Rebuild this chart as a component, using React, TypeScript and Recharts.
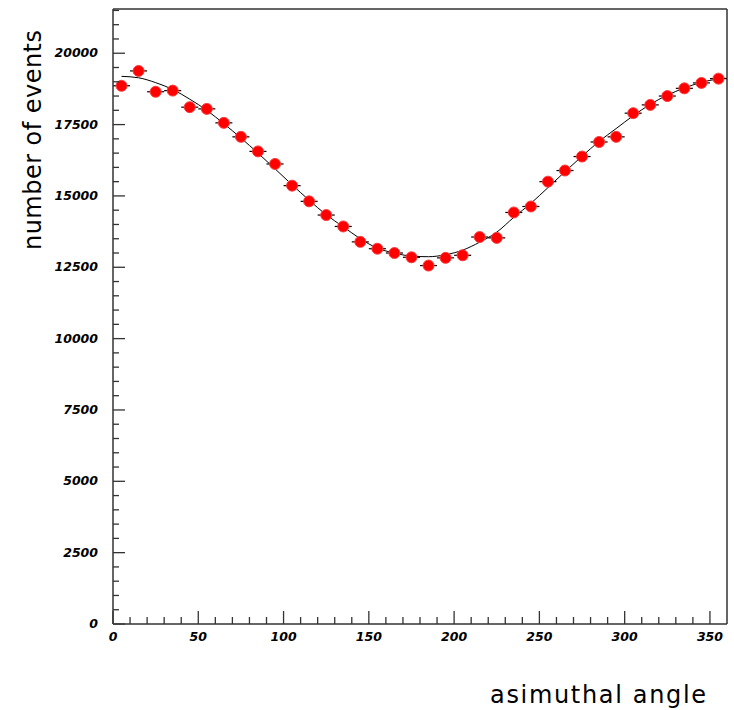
import { ScatterChart, Scatter, XAxis, YAxis, ErrorBar, ReferenceLine, Label } from 'recharts'

// measured histogram: bin centres (degrees) and counts
const angleBins = [5, 15, 25, 35, 45, 55, 65, 75, 85, 95, 105, 115, 125, 135, 145, 155, 165, 175,
  185, 195, 205, 215, 225, 235, 245, 255, 265, 275, 285, 295, 305, 315, 325, 335, 345, 355]
const eventCounts = [18860, 19380, 18650, 18690, 18110, 18050, 17560, 17070, 16560, 16120, 15360, 14810,
  14330, 13930, 13390, 13150, 13000, 12850, 12560, 12830, 12920, 13560, 13530, 14420, 14630, 15500,
  15890, 16380, 16890, 17070, 17900, 18190, 18500, 18770, 18960, 19110]
const binHalfWidth = [5, 5, 5, 5, 5, 5, 5, 5, 5, 5, 5, 5, 5, 5, 5, 5, 5, 5,
  5, 5, 5, 5, 5, 5, 5, 5, 5, 5, 5, 5, 5, 5, 5, 5, 5, 5]

// fitted curve
const fitAngles = [5, 15, 25, 35, 45, 55, 65, 75, 85, 95, 105, 115, 125, 135, 145, 155, 165, 175,
  185, 195, 205, 215, 225, 235, 245, 255, 265, 275, 285, 295, 305, 315, 325, 335, 345, 355, 359]
const fitValues = [19190, 19140, 18970, 18730, 18390, 18000, 17530, 17030, 16500, 15950, 15390, 14850,
  14340, 13920, 13500, 13170, 13000, 12890, 12870, 12940, 13100, 13380, 13730, 14250, 14740, 15290,
  15850, 16390, 16910, 17360, 17810, 18210, 18530, 18780, 18980, 19100, 19130]

const xTicks = [0, 10, 20, 30, 40, 50, 60, 70, 80, 90, 100, 110, 120, 130, 140, 150, 160, 170,
  180, 190, 200, 210, 220, 230, 240, 250, 260, 270, 280, 290, 300, 310, 320, 330, 340, 350]
const yTicks = [0, 500, 1000, 1500, 2000, 2500, 3000, 3500, 4000, 4500, 5000, 5500, 6000, 6500, 7000,
  7500, 8000, 8500, 9000, 9500, 10000, 10500, 11000, 11500, 12000, 12500, 13000, 13500, 14000, 14500,
  15000, 15500, 16000, 16500, 17000, 17500, 18000, 18500, 19000, 19500, 20000, 20500, 21000, 21500]

const X_MAX = 360
const Y_MAX = 21550

const points = angleBins.map((x, i) => ({ x, y: eventCounts[i], ex: binHalfWidth[i] }))
const fit = fitAngles.map((x, i) => ({ x, y: fitValues[i] }))

const AXIS = '#333333'
const tickFont = { fontFamily: 'DejaVu Sans', fontSize: 12.5, fontWeight: 700, fontStyle: 'italic', fill: '#000' }
const titleFont = { fontFamily: 'DejaVu Sans', fontSize: 24, fill: '#000' }

const YTick = ({ x, y, payload }: any) => {
  const major = payload.value % 2500 === 0
  return (
    <g>
      <line x1={x} x2={x + (major ? 12 : 6)} y1={y} y2={y} stroke={AXIS} strokeWidth={1.3} />
      {major && (
        <text x={x - 15} y={y} dy={4} textAnchor="end" {...tickFont}>
          {payload.value}
        </text>
      )}
    </g>
  )
}

const XTick = ({ x, y, payload }: any) => {
  const major = payload.value % 50 === 0
  return (
    <g>
      <line x1={x} x2={x} y1={y} y2={y - (major ? 13 : 7)} stroke={AXIS} strokeWidth={1.3} />
      {major && (
        <text x={x} y={y} dy={17} textAnchor="middle" {...tickFont}>
          {payload.value}
        </text>
      )}
    </g>
  )
}

const Marker = ({ cx, cy }: any) => (
  <circle cx={cx} cy={cy} r={5.5} fill="#ff0000" stroke="#ff3b3b" strokeWidth={1} />
)

export default function App() {
  return (
    <div style={{ position: 'absolute', left: 0, top: 0 }}>
      <ScatterChart width={734} height={710} margin={{ top: 9, right: 7, bottom: 56, left: 53 }}>
        <XAxis
          dataKey="x"
          type="number"
          domain={[0, X_MAX]}
          ticks={xTicks}
          interval={0}
          height={30}
          tickSize={0}
          tickMargin={0}
          tickLine={false}
          stroke={AXIS}
          strokeWidth={1.5}
          tick={<XTick />}
        >
          <Label
            content={() => (
              <text x={490} y={703} textLength={216} lengthAdjust="spacing" {...titleFont}>
                asimuthal angle
              </text>
            )}
          />
        </XAxis>
        <YAxis
          dataKey="y"
          type="number"
          domain={[0, Y_MAX]}
          ticks={yTicks}
          interval={0}
          width={60}
          tickSize={0}
          tickMargin={0}
          tickLine={false}
          stroke={AXIS}
          strokeWidth={1.5}
          tick={<YTick />}
        >
          <Label
            content={() => (
              <text x={41} y={140} textAnchor="middle" textLength={220} lengthAdjust="spacing"
                transform="rotate(-90 41 140)" {...titleFont}>
                number of events
              </text>
            )}
          />
        </YAxis>
        <ReferenceLine y={Y_MAX} stroke={AXIS} strokeWidth={1.5} />
        <ReferenceLine x={X_MAX} stroke={AXIS} strokeWidth={1.5} />
        <Scatter
          data={fit}
          line={{ stroke: '#000', strokeWidth: 1 }}
          lineJointType="monotoneX"
          shape={() => <g />}
          isAnimationActive={false}
        />
        <Scatter data={points} shape={<Marker />} isAnimationActive={false}>
          <ErrorBar dataKey="ex" direction="x" width={0} stroke="#000" strokeWidth={1.2} />
        </Scatter>
      </ScatterChart>
    </div>
  )
}
